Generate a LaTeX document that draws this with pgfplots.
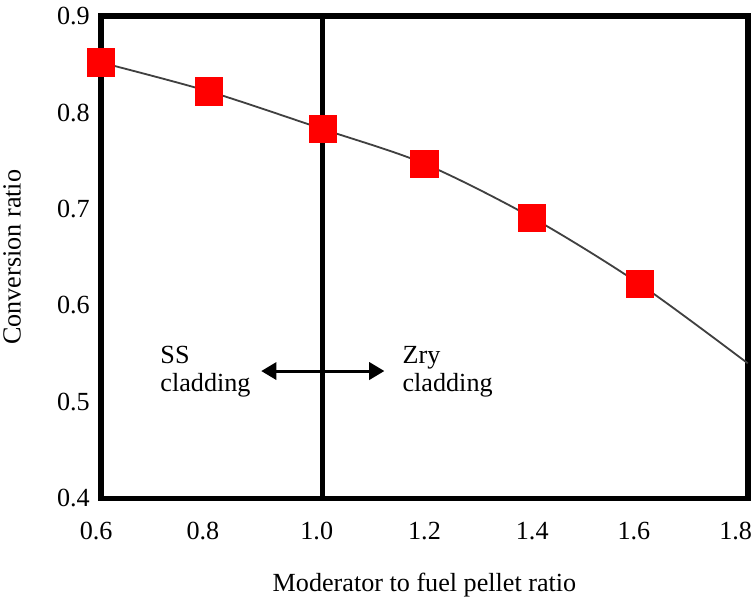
\documentclass[border=0pt]{standalone}
\usepackage{fontspec}
\setmainfont{Liberation Serif}
\newfontfamily\tnr{Liberation Serif}
\usepackage{pgfplots}
\pgfplotsset{compat=1.18}
\usetikzlibrary{arrows.meta}
\begin{document}
\tnr
\begin{tikzpicture}
\begin{axis}[
  name=main,
  scale only axis,
  width=640.5bp, height=477.5bp,
  xmin=0.6, xmax=1.8, ymin=0.4, ymax=0.9,
  xtick={0.6,0.8,1.0,1.2,1.4,1.6,1.8},
  xticklabels={\hspace*{-10bp}0.6,\hspace*{-12bp}0.8,1.0,1.2,1.4,\hspace*{-12bp}1.6,\hspace*{-24bp}1.8},
  ytick={0.4,0.5,0.6,0.7,0.8,0.9},
  yticklabels={0.4,0.5,0.6,0.7,0.8,0.9},
  major tick length=0pt,
  axis line style={line width=5.5bp},
  tick label style={font=\tnr\fontsize{26}{30}\selectfont},
  xticklabel style={yshift=-20bp, inner xsep=0pt},
  yticklabel style={xshift=-7.8bp},
  xlabel={Moderator to fuel pellet ratio},
  ylabel={Conversion ratio},
  label style={font=\tnr\fontsize{26}{30}\selectfont},
  xlabel style={yshift=-27bp, inner ysep=2bp},
  ylabel style={yshift=29bp},
  /pgf/number format/assume math mode=true,
  clip=false,
]
% trend line
\addplot[color=black!75, line width=1.8bp, smooth, tension=0.5] coordinates {
  (0.6,0.852) (0.8,0.822) (1.011,0.783) (1.2,0.747) (1.4,0.691) (1.6,0.622) (1.8,0.540)
};
% vertical divider
\addplot[black, line width=5.5bp] coordinates {(1.011,0.4) (1.011,0.9)};
% markers
\addplot[only marks, mark=square*, mark size=13.5bp, mark options={fill=red, draw=red, line width=0pt}] coordinates {
  (0.6,0.852) (0.8,0.822) (1.011,0.783) (1.2,0.747) (1.4,0.691) (1.6,0.622)
};
\draw[black, line width=3bp, {Triangle[length=15bp,width=17bp]}-{Triangle[length=15bp,width=17bp]}]
  (axis cs:0.897,0.532) -- (axis cs:1.1255,0.532);
\node[anchor=base west, align=left, font=\tnr\fontsize{26}{28}\selectfont, inner sep=0pt] at (axis cs:0.7096,0.511) {SS\\cladding};
\node[anchor=base west, align=left, font=\tnr\fontsize{26}{28}\selectfont, inner sep=0pt] at (axis cs:1.159,0.511) {Zry\\cladding};
\end{axis}
\path ([yshift=4bp]current bounding box.north) -- (current bounding box.south);
\end{tikzpicture}
\end{document}
